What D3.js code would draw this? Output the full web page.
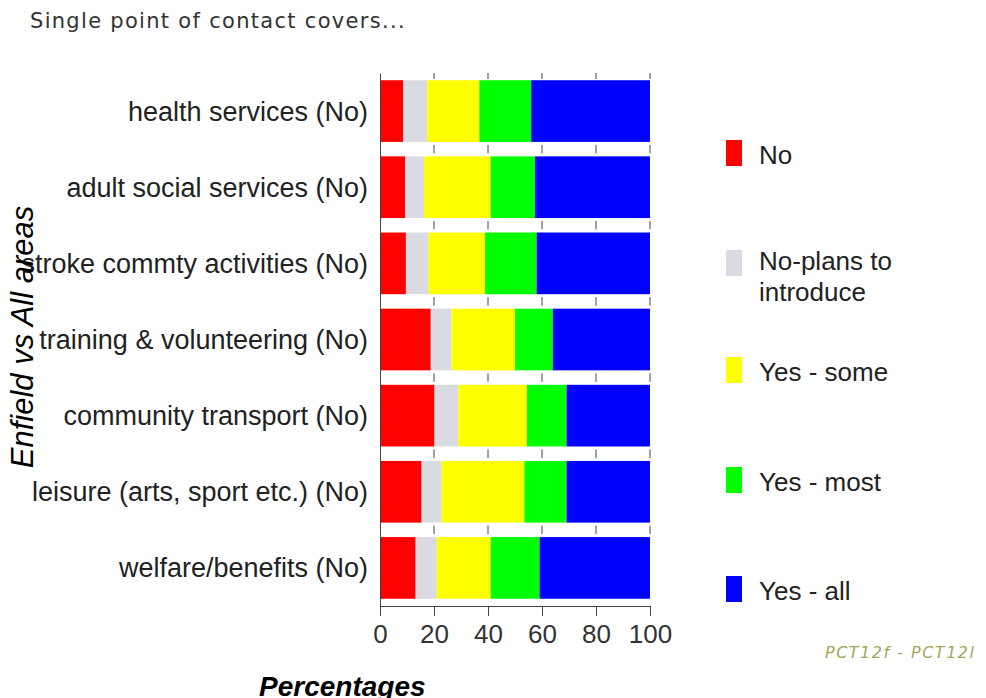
<!DOCTYPE html>
<html>
<head>
<meta charset="utf-8">
<script src="https://cdn.jsdelivr.net/npm/d3@7"></script>
<style>
  body { margin: 0; background: #fff; }
  svg { display: block; }
</style>
</head>
<body>
<svg id="chart" width="986" height="698"></svg>
<script>
// data (percentages, each row sums to 100)
var categories = ["health services (No)", "adult social services (No)", "stroke commty activities (No)",
  "training & volunteering (No)", "community transport (No)", "leisure (arts, sport etc.) (No)",
  "welfare/benefits (No)"];
var seriesNames = ["No", "No-plans to introduce", "Yes - some", "Yes - most", "Yes - all"];
var valsNo      = [8.6, 9.3, 9.6, 18.8, 20.2, 15.4, 13.2];
var valsNoPlans = [8.9, 7.0, 8.4, 7.7, 8.8, 7.4, 7.8];
var valsSome    = [19.3, 24.7, 20.9, 23.5, 25.4, 30.7, 20.0];
var valsMost    = [19.2, 16.4, 19.1, 14.0, 14.7, 15.6, 18.1];
var valsAll     = [44.0, 42.6, 42.0, 36.0, 30.9, 30.9, 40.9];
var xTicks = [0, 20, 40, 60, 80, 100];
var colours = ["#ff0000", "#dadae2", "#ffff00", "#00ff00", "#0000ff"];

var svg = d3.select("#chart");
var plot = {left: 380, right: 650, top: 73, bottom: 606};

var rows = categories.map(function(c, i) {
  return {cat: c, s0: valsNo[i], s1: valsNoPlans[i], s2: valsSome[i], s3: valsMost[i], s4: valsAll[i]};
});
var keys = ["s0", "s1", "s2", "s3", "s4"];
var stacked = d3.stack().keys(keys)(rows);

var x = d3.scaleLinear().domain([0, 100]).range([plot.left, plot.right]);
var y = d3.scaleBand().domain(categories).range([plot.top, plot.bottom])
  .paddingInner(0.19).paddingOuter(0.095);
var colour = d3.scaleOrdinal().domain(keys).range(colours);

// title
svg.append("text")
  .attr("x", 30).attr("y", 28)
  .attr("font-family", "DejaVu Sans")
  .attr("font-size", "21px")
  .attr("letter-spacing", "1.3px")
  .attr("fill", "#333")
  .text("Single point of contact covers...");

// bars
svg.append("g").selectAll("g")
  .data(stacked)
  .enter().append("g")
    .attr("fill", function(d) { return colour(d.key); })
  .selectAll("rect")
  .data(function(d) { return d; })
  .enter().append("rect")
    .attr("x", function(d) { return x(d[0]); })
    .attr("width", function(d) { return x(d[1]) - x(d[0]); })
    .attr("y", function(d) { return y(d.data.cat); })
    .attr("height", y.bandwidth());

// short tick marks in the gaps between bars
var step = y.step();
var gapMarks = [];
categories.forEach(function(c, i) {
  xTicks.slice(1).forEach(function(t) { gapMarks.push({t: t, i: i}); });
});
svg.append("g").selectAll("line")
  .data(gapMarks)
  .enter().append("line")
    .attr("x1", function(d) { return x(d.t); })
    .attr("x2", function(d) { return x(d.t); })
    .attr("y1", function(d) { return d.i == 0 ? plot.top : y(categories[d.i]) - step * 0.19 + 3; })
    .attr("y2", function(d) { return d.i == 0 ? plot.top + 6 : y(categories[d.i]) - 3; })
    .attr("stroke", "#444")
    .attr("stroke-width", 1);

// axes
var xAxis = svg.append("g")
  .attr("transform", "translate(0," + plot.bottom + ")")
  .call(d3.axisBottom(x).tickValues(xTicks).tickSize(10).tickSizeOuter(0));
xAxis.select(".domain").attr("stroke", "#444");
xAxis.selectAll(".tick line").attr("stroke", "#444");
xAxis.selectAll(".tick text")
  .attr("font-family", "Liberation Sans, Arial")
  .attr("font-size", "26px")
  .attr("fill", "#333")
  .attr("dy", null)
  .attr("y", 37);

var yAxis = svg.append("g")
  .attr("transform", "translate(" + plot.left + ",0)")
  .call(d3.axisLeft(y).tickSize(0).tickPadding(12));
yAxis.select(".domain").attr("stroke", "#444");
yAxis.selectAll(".tick text")
  .attr("font-family", "Liberation Sans, Arial")
  .attr("font-size", "27px")
  .attr("fill", "#222")
  .attr("dy", "0.35em");

// axis titles
svg.append("text")
  .attr("transform", "translate(33,337) rotate(-90)")
  .attr("text-anchor", "middle")
  .attr("font-family", "Liberation Sans, Arial")
  .attr("font-style", "italic")
  .attr("font-size", "31px")
  .attr("fill", "#000")
  .text("Enfield vs All areas");

svg.append("text")
  .attr("x", 259).attr("y", 696)
  .attr("font-family", "Liberation Sans, Arial")
  .attr("font-style", "italic")
  .attr("font-weight", "bold")
  .attr("font-size", "28px")
  .attr("fill", "#000")
  .text("Percentages");

// legend
var legendTop = [140, 250, 357, 467, 576];
var legend = svg.append("g").selectAll("g")
  .data(keys)
  .enter().append("g")
  .attr("transform", function(d, i) { return "translate(726," + legendTop[i] + ")"; });

legend.append("rect")
  .attr("width", 16)
  .attr("height", 26)
  .attr("fill", function(d) { return colour(d); });

legend.append("text")
  .attr("x", 33)
  .attr("y", function(d, i) { return i == 1 ? 20 : 24; })
  .attr("font-family", "Liberation Sans, Arial")
  .attr("font-size", "26px")
  .attr("fill", "#222")
  .each(function(d, i) {
    var name = seriesNames[i];
    var t = d3.select(this);
    if (name == "No-plans to introduce") {
      t.append("tspan").attr("x", 33).text("No-plans to");
      t.append("tspan").attr("x", 33).attr("dy", 31).text("introduce");
    } else {
      t.text(name);
    }
  });

// footer
svg.append("text")
  .attr("x", 825).attr("y", 658)
  .attr("font-family", "DejaVu Sans")
  .attr("font-style", "italic")
  .attr("font-size", "16px")
  .attr("letter-spacing", "1.5px")
  .attr("fill", "#a5a560")
  .text("PCT12f - PCT12l");
</script>
</body>
</html>
